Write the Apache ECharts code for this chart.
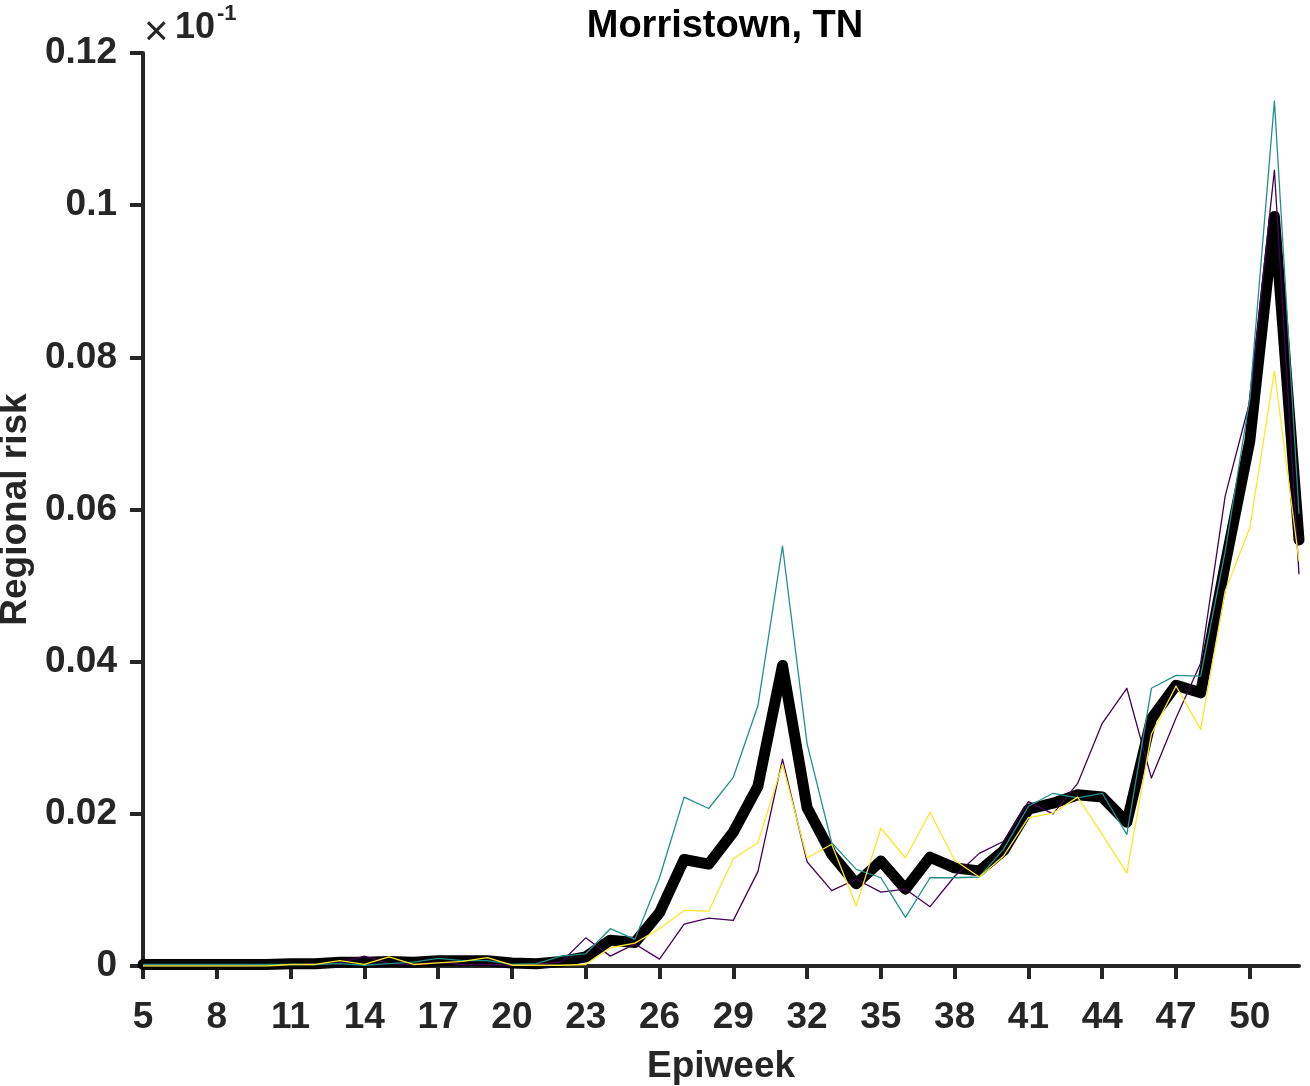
<!DOCTYPE html>
<html>
<head>
<meta charset="utf-8">
<script src="https://cdn.jsdelivr.net/npm/echarts@6/dist/echarts.min.js"></script>
<style>
  html, body { margin: 0; padding: 0; background: #fff; }
  #chart { width: 1310px; height: 1086px; }
</style>
</head>
<body>
<div id="chart"></div>
<script>
// epiweeks 5..52
var weeks = [5, 6, 7, 8, 9, 10, 11, 12, 13, 14, 15, 16, 17, 18, 19, 20, 21, 22, 23, 24,
  25, 26, 27, 28, 29, 30, 31, 32, 33, 34, 35, 36, 37, 38, 39, 40, 41, 42, 43, 44,
  45, 46, 47, 48, 49, 50, 51, 52];

var meanRisk = [0.0002, 0.0002, 0.0002, 0.0002, 0.0002, 0.0002, 0.0003, 0.0003, 0.0005, 0.0005,
  0.0006, 0.0005, 0.0007, 0.0007, 0.0007, 0.0004, 0.0003, 0.0006, 0.0012, 0.0034,
  0.0031, 0.0070, 0.0140, 0.0134, 0.0176, 0.0236, 0.0395, 0.0208, 0.0147, 0.0108,
  0.0138, 0.0101, 0.0143, 0.0129, 0.0125, 0.0152, 0.0206, 0.0214, 0.0225, 0.0222,
  0.0189, 0.0325, 0.0369, 0.0359, 0.0528, 0.0690, 0.0985, 0.0560];

var purpleRisk = [0, 0, 0, 0, 0, 0.0001, 0.0002, 0.0002, 0.0004, 0.0013,
  0.0003, 0.0002, 0.0005, 0.0002, 0.0002, 0.0001, 0.0002, 0.0005, 0.0037, 0.0013,
  0.0029, 0.0009, 0.0055, 0.0063, 0.0060, 0.0124, 0.0272, 0.0137, 0.0099, 0.0114,
  0.0097, 0.0101, 0.0078, 0.0118, 0.0148, 0.0164, 0.0216, 0.0200, 0.0240, 0.0319,
  0.0365, 0.0247, 0.0326, 0.0398, 0.0618, 0.0742, 0.1046, 0.0515];

var tealRisk = [0.0002, 0.0002, 0.0002, 0.0002, 0.0002, 0.0002, 0.0002, 0.0002, 0.0003, 0.0001,
  0.0003, 0.0005, 0.0010, 0.0007, 0.0007, 0.0002, 0.0003, 0.0013, 0.0016, 0.0049,
  0.0035, 0.0116, 0.0222, 0.0207, 0.0248, 0.0342, 0.0552, 0.0292, 0.0162, 0.0127,
  0.0116, 0.0064, 0.0116, 0.0116, 0.0117, 0.0154, 0.0210, 0.0227, 0.0221, 0.0227,
  0.0173, 0.0365, 0.0382, 0.0381, 0.0545, 0.0746, 0.1137, 0.0594];

var yellowRisk = [0, 0, 0, 0, 0, 0, 0.0002, 0.0002, 0.0007, 0.0002,
  0.0012, 0.0002, 0.0004, 0.0006, 0.0011, 0.0001, 0.0001, 0.0001, 0.0002, 0.0024,
  0.0030, 0.0049, 0.0073, 0.0072, 0.0141, 0.0162, 0.0265, 0.0142, 0.0160, 0.0079,
  0.0181, 0.0142, 0.0202, 0.0139, 0.0117, 0.0145, 0.0195, 0.0201, 0.0222, 0.0173,
  0.0122, 0.0305, 0.0368, 0.0311, 0.0493, 0.0576, 0.0782, 0.0532];

var font = '"Liberation Sans", Arial, Helvetica, sans-serif';
var axisColor = '#262626';

var chart = echarts.init(document.getElementById('chart'), null, { renderer: 'canvas' });

function thinLine(name, data, color) {
  return {
    name: name,
    type: 'line',
    data: data,
    symbol: 'none',
    lineStyle: { color: color, width: 1.3, join: 'round' }
  };
}

var option = {
  backgroundColor: '#ffffff',
  animation: false,
  title: {
    text: 'Morristown, TN',
    left: 720,
    top: 3,
    textAlign: 'center',
    textStyle: { fontFamily: font, fontWeight: 'bold', fontSize: 38, color: '#000' }
  },
  grid: { left: 143, right: 11, top: 53, bottom: 120, containLabel: false, outerBoundsMode: 'none' },
  xAxis: {
    type: 'category',
    data: weeks,
    boundaryGap: false,
    name: 'Epiweek',
    nameLocation: 'middle',
    nameGap: 82,
    nameTextStyle: { fontFamily: font, fontWeight: 'bold', fontSize: 37, color: axisColor },
    axisLine: { lineStyle: { color: axisColor, width: 4 } },
    axisTick: { show: true, interval: 2, length: 13, lineStyle: { color: axisColor, width: 4 } },
    axisLabel: {
      interval: 2,
      margin: 33,
      fontFamily: font, fontWeight: 'bold', fontSize: 37, color: axisColor
    },
    splitLine: { show: false }
  },
  yAxis: {
    type: 'value',
    min: 0,
    max: 0.12,
    interval: 0.02,
    name: 'Regional risk',
    nameLocation: 'middle',
    nameGap: 108,
    nameTextStyle: { fontFamily: font, fontWeight: 'bold', fontSize: 37, color: axisColor },
    axisLine: { show: true, lineStyle: { color: axisColor, width: 4 } },
    axisTick: { show: true, length: 13, lineStyle: { color: axisColor, width: 4 } },
    axisLabel: {
      margin: 26,
      fontFamily: font, fontWeight: 'bold', fontSize: 37, color: axisColor,
      formatter: function (v) { return String(parseFloat(v.toFixed(2))); }
    },
    splitLine: { show: false }
  },
  graphic: [
    { type: 'text', left: 144, top: 12,
      style: { text: '\u00d7', fontFamily: font, fontSize: 42, fill: axisColor } },
    { type: 'text', left: 175, top: 10,
      style: { text: '10', fontFamily: font, fontWeight: 'bold', fontSize: 36, fill: axisColor } },
    { type: 'text', left: 217, top: 3,
      style: { text: '-1', fontFamily: font, fontWeight: 'bold', fontSize: 22, fill: axisColor } }
  ],
  series: [
    {
      name: 'mean',
      type: 'line',
      data: meanRisk,
      symbol: 'none',
      lineStyle: { color: '#000000', width: 11, cap: 'round', join: 'round' }
    },
    thinLine('purple', purpleRisk, '#440154'),
    thinLine('teal', tealRisk, '#21908c'),
    thinLine('yellow', yellowRisk, '#fde725')
  ]
};

chart.setOption(option);
</script>
</body>
</html>
